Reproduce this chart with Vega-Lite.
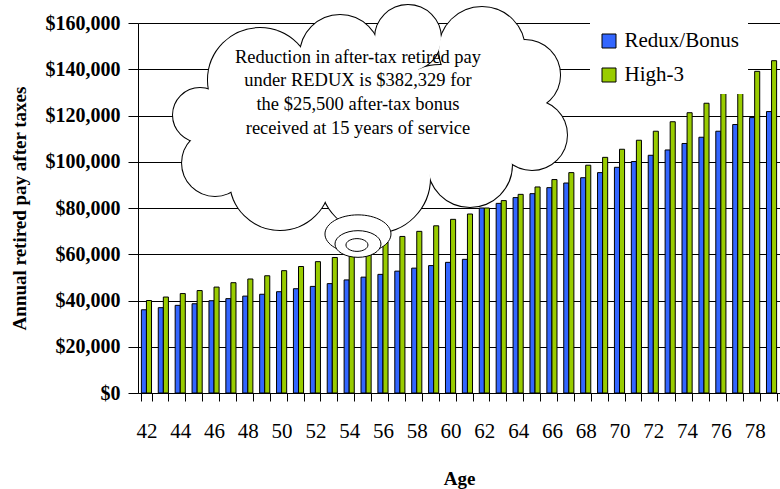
{
  "$schema": "https://vega.github.io/schema/vega-lite/v6.json",
  "width": 642,
  "height": 370,
  "autosize": {"type": "none"},
  "padding": {"left": 138, "top": 23, "right": 0, "bottom": 96},
  "background": "white",
  "config": {"view": {"stroke": null}, "font": "Liberation Serif"},
  "datasets": {
    "pay": [
      {"age": 42, "Redux/Bonus": 36000, "High-3": 40000},
      {"age": 43, "Redux/Bonus": 36900, "High-3": 41500},
      {"age": 44, "Redux/Bonus": 37900, "High-3": 43000},
      {"age": 45, "Redux/Bonus": 38600, "High-3": 44300},
      {"age": 46, "Redux/Bonus": 39900, "High-3": 45800},
      {"age": 47, "Redux/Bonus": 40800, "High-3": 47700},
      {"age": 48, "Redux/Bonus": 41900, "High-3": 49300},
      {"age": 49, "Redux/Bonus": 42700, "High-3": 50700},
      {"age": 50, "Redux/Bonus": 43800, "High-3": 52900},
      {"age": 51, "Redux/Bonus": 45100, "High-3": 54700},
      {"age": 52, "Redux/Bonus": 46100, "High-3": 56800},
      {"age": 53, "Redux/Bonus": 47300, "High-3": 58600},
      {"age": 54, "Redux/Bonus": 48900, "High-3": 60700},
      {"age": 55, "Redux/Bonus": 50100, "High-3": 62900},
      {"age": 56, "Redux/Bonus": 51300, "High-3": 65300},
      {"age": 57, "Redux/Bonus": 52700, "High-3": 67700},
      {"age": 58, "Redux/Bonus": 54000, "High-3": 69900},
      {"age": 59, "Redux/Bonus": 55100, "High-3": 72300},
      {"age": 60, "Redux/Bonus": 56500, "High-3": 75100},
      {"age": 61, "Redux/Bonus": 57800, "High-3": 77400},
      {"age": 62, "Redux/Bonus": 80000, "High-3": 80000},
      {"age": 63, "Redux/Bonus": 82000, "High-3": 83200},
      {"age": 64, "Redux/Bonus": 84500, "High-3": 85900},
      {"age": 65, "Redux/Bonus": 86200, "High-3": 89100},
      {"age": 66, "Redux/Bonus": 88800, "High-3": 92300},
      {"age": 67, "Redux/Bonus": 90800, "High-3": 95300},
      {"age": 68, "Redux/Bonus": 93100, "High-3": 98500},
      {"age": 69, "Redux/Bonus": 95300, "High-3": 101900},
      {"age": 70, "Redux/Bonus": 97600, "High-3": 105400},
      {"age": 71, "Redux/Bonus": 100100, "High-3": 109300},
      {"age": 72, "Redux/Bonus": 102800, "High-3": 113200},
      {"age": 73, "Redux/Bonus": 105100, "High-3": 117300},
      {"age": 74, "Redux/Bonus": 107900, "High-3": 121200},
      {"age": 75, "Redux/Bonus": 110600, "High-3": 125300},
      {"age": 76, "Redux/Bonus": 113200, "High-3": 129500},
      {"age": 77, "Redux/Bonus": 116100, "High-3": 134000},
      {"age": 78, "Redux/Bonus": 119100, "High-3": 139100},
      {"age": 79, "Redux/Bonus": 121700, "High-3": 143700}
    ],
    "cloud": [
      {"bump": "b1", "cx": 45.17, "cy": 120216},
      {"bump": "b2", "cx": 46.06, "cy": 99459},
      {"bump": "b3", "cx": 49.90, "cy": 92108},
      {"bump": "b4", "cx": 55.53, "cy": 92972},
      {"bump": "b5", "cx": 61.15, "cy": 98594},
      {"bump": "b6", "cx": 64.82, "cy": 111567},
      {"bump": "b7", "cx": 64.41, "cy": 137513},
      {"bump": "b8", "cx": 61.86, "cy": 148323},
      {"bump": "b9", "cx": 57.48, "cy": 153513},
      {"bump": "b10", "cx": 53.46, "cy": 146161},
      {"bump": "b11", "cx": 48.72, "cy": 135351},
      {"bump": "i1", "cx": 51.09, "cy": 118053},
      {"bump": "i2", "cx": 55.23, "cy": 118053},
      {"bump": "i3", "cx": 59.38, "cy": 118053},
      {"bump": "i4", "cx": 47.06, "cy": 115891},
      {"bump": "i5", "cx": 62.63, "cy": 124540}
    ],
    "bubble": [
      {"bump": "e1", "cx": 54.52, "cy": 68756},
      {"bump": "e2", "cx": 54.52, "cy": 64432},
      {"bump": "e3", "cx": 54.46, "cy": 64000}
    ],
    "note": [
      {"line": "Reduction in after-tax retired pay", "cx": 54.52, "cy": 145428},
      {"line": "under REDUX is $382,329 for", "cx": 54.52, "cy": 135351},
      {"line": "the $25,500 after-tax bonus", "cx": 54.52, "cy": 124972},
      {"line": "received at 15 years of service", "cx": 54.52, "cy": 114464}
    ]
  },
  "layer": [
    {
      "data": {"name": "pay"},
      "transform": [{"fold": ["Redux/Bonus", "High-3"], "as": ["series", "pay"]}],
      "mark": {"type": "bar", "stroke": "black", "strokeWidth": 1},
      "encoding": {
        "x": {
          "field": "age", "type": "ordinal",
          "scale": {"paddingInner": 0.4, "paddingOuter": 0.2},
          "axis": {
            "title": "Age", "labelExpr": "datum.value % 2 == 0 ? datum.label : ''",
            "labelAngle": 0, "tickBand": "extent", "labelFontSize": 21, "labelColor": "black",
            "labelPadding": 19, "tickSize": 8, "tickColor": "black", "domainColor": "black",
            "titleFontSize": 19, "titleFontWeight": "bold", "titleColor": "black", "titlePadding": 28, "grid": false
          }
        },
        "xOffset": {"field": "series", "type": "nominal", "sort": ["Redux/Bonus", "High-3"], "scale": {"paddingInner": 0, "paddingOuter": 0}},
        "y": {
          "field": "pay", "type": "quantitative",
          "scale": {"domain": [0, 160000], "nice": false},
          "axis": {
            "title": "Annual retired pay after taxes",
            "values": [0, 20000, 40000, 60000, 80000, 100000, 120000, 140000, 160000],
            "format": "$,.0f", "labelFontSize": 20, "labelFontWeight": "bold", "labelColor": "black",
            "labelPadding": 8, "tickSize": 10, "tickColor": "black", "domainColor": "black",
            "gridColor": "black", "gridOpacity": 1, "titleFontSize": 19, "titleFontWeight": "bold",
            "titleColor": "black", "titlePadding": 16
          }
        },
        "color": {
          "field": "series", "type": "nominal",
          "scale": {"domain": ["Redux/Bonus", "High-3"], "range": ["#3366FF", "#99CC00"]},
          "legend": {
            "orient": "none", "legendX": 452, "legendY": -1, "title": null, "fillColor": "white",
            "padding": 8.5, "symbolType": "square", "symbolSize": 196, "symbolStrokeColor": "black",
            "symbolStrokeWidth": 1, "labelFontSize": 21, "labelColor": "black", "labelOffset": 5,
            "rowPadding": 12, "labelFont": "Liberation Serif"
          }
        }
      }
    },
    {
      "data": {"name": "cloud"},
      "encoding": {
        "x": {"field": "cx", "type": "quantitative", "scale": {"domain": [41.5, 79.5], "nice": false, "zero": false}, "axis": null},
        "y": {"field": "cy", "type": "quantitative"},
        "size": {
          "condition": [
            {"test": "datum.bump === 'b1'", "value": 2916},
            {"test": "datum.bump === 'b2'", "value": 4356},
            {"test": "datum.bump === 'b3'", "value": 10000},
            {"test": "datum.bump === 'b4'", "value": 12100},
            {"test": "datum.bump === 'b5'", "value": 7056},
            {"test": "datum.bump === 'b6'", "value": 4900},
            {"test": "datum.bump === 'b7'", "value": 4900},
            {"test": "datum.bump === 'b8'", "value": 7396},
            {"test": "datum.bump === 'b9'", "value": 4356},
            {"test": "datum.bump === 'b10'", "value": 6400},
            {"test": "datum.bump === 'b11'", "value": 10816},
            {"test": "datum.bump === 'i1'", "value": 14400},
            {"test": "datum.bump === 'i2'", "value": 19600},
            {"test": "datum.bump === 'i3'", "value": 12100}
          ],
          "value": 4900
        }
      },
      "layer": [
        {"mark": {"type": "point", "filled": true, "fill": "white", "stroke": "black", "strokeWidth": 2, "opacity": 1, "fillOpacity": 1, "shape": "circle"}},
        {"mark": {"type": "point", "filled": true, "fill": "white", "strokeWidth": 0, "opacity": 1, "fillOpacity": 1, "shape": "circle"}}
      ]
    },
    {
      "data": {"name": "bubble"},
      "mark": {"type": "point", "filled": true, "fill": "white", "stroke": "black", "strokeWidth": 1, "opacity": 1, "fillOpacity": 1,
        "shape": "M-1,0C-1,-0.32,-0.552,-0.58,0,-0.58C0.552,-0.58,1,-0.32,1,0C1,0.32,0.552,0.58,0,0.58C-0.552,0.58,-1,0.32,-1,0Z"},
      "encoding": {
        "x": {"field": "cx", "type": "quantitative", "scale": {"domain": [41.5, 79.5], "nice": false, "zero": false}, "axis": null},
        "y": {"field": "cy", "type": "quantitative"},
        "size": {
          "condition": [
            {"test": "datum.bump === 'e1'", "value": 4356},
            {"test": "datum.bump === 'e2'", "value": 2116}
          ],
          "value": 484
        }
      }
    },
    {
      "data": {"name": "note"},
      "mark": {"type": "text", "font": "Liberation Serif", "fontSize": 18.5, "align": "center", "baseline": "middle", "color": "black"},
      "encoding": {
        "x": {"field": "cx", "type": "quantitative", "scale": {"domain": [41.5, 79.5], "nice": false, "zero": false}, "axis": null},
        "y": {"field": "cy", "type": "quantitative"},
        "text": {"field": "line"}
      }
    }
  ],
  "resolve": {"scale": {"x": "independent"}}
}
